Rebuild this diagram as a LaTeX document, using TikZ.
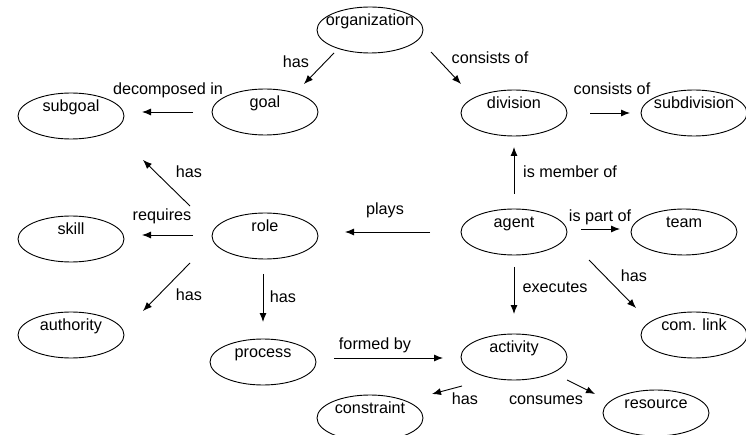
\documentclass[tikz,border=0pt]{standalone}
\usepackage{fontspec}
\setmainfont{Liberation Sans}
\usetikzlibrary{arrows.meta,shapes.geometric}
\begin{document}
\begin{tikzpicture}[x=1pt,y=-1pt,
  txt/.style={font=\fontsize{16.2}{19}\selectfont,inner sep=0pt,text height=12pt,text depth=3.5pt},
  concept/.style={ellipse,draw,line width=0.9pt,minimum width=106pt,minimum height=46pt,inner sep=0pt,
    label={[txt,yshift=8.5pt]center:#1}},
  rel/.style={draw,line width=0.9pt,-{Latex[length=9pt,width=7pt]}},
  lbl/.style={txt}]
\useasboundingbox (0,0) rectangle (746,435);

% concepts
\node[concept=organization] (org) at (370,30) {};
\node[concept=goal] (goal) at (265,112) {};
\node[concept=subgoal] (subgoal) at (71,116) {};
\node[concept=division] (div) at (514,113) {};
\node[concept=subdivision] (subdiv) at (694,113) {};
\node[concept=skill] (skill) at (71,239) {};
\node[concept=role] (role) at (265,236) {};
\node[concept=agent] (agent) at (514,232) {};
\node[concept=team] (team) at (684,232) {};
\node[concept=authority] (auth) at (71,335) {};
\node[concept={com. link}] (com) at (694,335) {};
\node[concept=process] (proc) at (263,362) {};
\node[concept=activity] (act) at (514,357) {};
\node[concept=constraint] (cons) at (370,418) {};
\node[concept=resource] (res) at (656,413) {};

% arrow end points
\coordinate (og1) at (334,53);  \coordinate (og2) at (304,84);
\coordinate (od1) at (431,52);  \coordinate (od2) at (461,84);
\coordinate (gs1) at (193,112); \coordinate (gs2) at (142,112);
\coordinate (ds1) at (590,113); \coordinate (ds2) at (630,113);
\coordinate (rg1) at (190,206); \coordinate (rg2) at (143,160);
\coordinate (rs1) at (193,235); \coordinate (rs2) at (142,235);
\coordinate (ar1) at (430,232); \coordinate (ar2) at (345,232);
\coordinate (ad1) at (514,194); \coordinate (ad2) at (514,147);
\coordinate (at1) at (581,229); \coordinate (at2) at (620,229);
\coordinate (ra1) at (190,263); \coordinate (ra2) at (143,311);
\coordinate (rp1) at (263,274); \coordinate (rp2) at (263,322);
\coordinate (aa1) at (514,267); \coordinate (aa2) at (514,314);
\coordinate (ac1) at (589,260); \coordinate (ac2) at (636,308);
\coordinate (pa1) at (334,358); \coordinate (pa2) at (443,358);
\coordinate (ak1) at (462,386); \coordinate (ak2) at (432,394);
\coordinate (ae1) at (567,380); \coordinate (ae2) at (595,394);

% relations
\draw[rel] (og1) -- (og2);
\draw[rel] (od1) -- (od2);
\draw[rel] (gs1) -- (gs2);
\draw[rel] (ds1) -- (ds2);
\draw[rel] (rg1) -- (rg2);
\draw[rel] (rs1) -- (rs2);
\draw[rel] (ar1) -- (ar2);
\draw[rel] (ad1) -- (ad2);
\draw[rel] (at1) -- (at2);
\draw[rel] (ra1) -- (ra2);
\draw[rel] (rp1) -- (rp2);
\draw[rel] (aa1) -- (aa2);
\draw[rel] (ac1) -- (ac2);
\draw[rel] (pa1) -- (pa2);
\draw[rel] (ak1) -- (ak2);
\draw[rel] (ae1) -- (ae2);

% relation names
\node[lbl] (l-og) at (296,63) {has};
\node[lbl] (l-od) at (490,59) {consists of};
\node[lbl] (l-gs) at (168,90) {decomposed in};
\node[lbl] (l-ds) at (612,90) {consists of};
\node[lbl] (l-rg) at (189,173) {has};
\node[lbl] (l-rs) at (162,216) {requires};
\node[lbl] (l-ar) at (385,210) {plays};
\node[lbl] (l-ad) at (570,173) {is member of};
\node[lbl] (l-at) at (600,217) {is part of};
\node[lbl] (l-ra) at (189,296) {has};
\node[lbl] (l-rp) at (283,298) {has};
\node[lbl] (l-aa) at (555,288) {executes};
\node[lbl] (l-ac) at (634,277) {has};
\node[lbl] (l-pa) at (375,345) {formed by};
\node[lbl] (l-ak) at (465,400) {has};
\node[lbl] (l-ae) at (546,400) {consumes};
\end{tikzpicture}
\end{document}
